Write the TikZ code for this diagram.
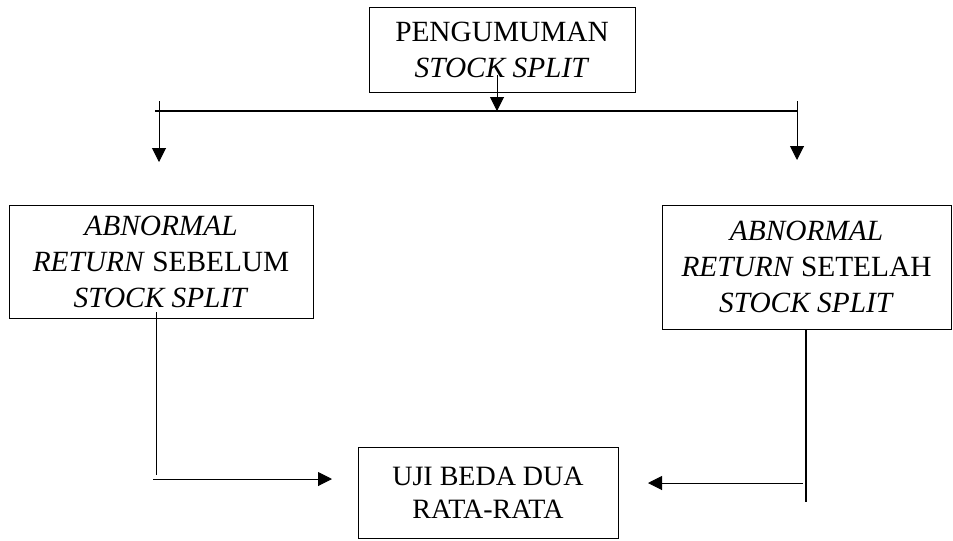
\documentclass[tikz,border=0pt]{standalone}
\usepackage{fontspec}
\setmainfont{Liberation Serif}
\usetikzlibrary{arrows.meta,positioning}
\tikzset{
        boxnode/.style={align=center, draw=black, line width=0.75pt, inner sep=0pt, font=\fontsize{22}{27}\selectfont},
        % Announcement box
        node_announce/.style={boxnode, minimum width=199.5pt, minimum height=63.75pt},
        % Abnormal return boxes
        node_before/.style={boxnode, minimum width=228pt, minimum height=84.75pt},
        node_after/.style={boxnode, minimum width=216.75pt, minimum height=93pt},
        % Test box
        node_test/.style={boxnode, minimum width=195pt, minimum height=68.25pt, font=\fontsize{21}{25}\selectfont},
        % Lines
        thinline/.style={line width=0.75pt},
        thickline/.style={line width=1.5pt}
}

\begin{document}
\begin{tikzpicture}[
            x=0.75pt, y=-0.75pt,
            >={Triangle[length=10.5pt,width=10.5pt]}
        ]
            \useasboundingbox (0,0) rectangle (953,540);
            \node[node_announce] (announce) at (502,49.5) {PENGUMUMAN\\\textit{STOCK SPLIT}};
            \node[node_before] (before) at (161,261.5) {\textit{ABNORMAL}\\\textit{RETURN} SEBELUM\\\textit{STOCK SPLIT}};
            \node[node_after] (after) at (806.5,267) {\textit{ABNORMAL}\\\textit{RETURN} SETELAH\\\textit{STOCK SPLIT}};
            \node[node_test] (test) at (488,492.5) {UJI BEDA DUA\\RATA-RATA};
            % branch
            \coordinate (a_top) at (497,75);
            \coordinate (bus_mid) at (497,111);
            \coordinate (bus_left) at (155,111);
            \coordinate (bus_right) at (797,111);
            \coordinate (left_top) at (159,101);
            \coordinate (left_tip) at (159,162);
            \coordinate (right_top) at (797,101);
            \coordinate (right_tip) at (797,160);
            \draw[thinline,->] (a_top) -- (bus_mid);
            \draw[thickline] (bus_left) -- (bus_right);
            \draw[thinline,->] (left_top) -- (left_tip);
            \draw[thinline,->] (right_top) -- (right_tip);
            % to the test
            \coordinate (l_start) at (156,312);
            \coordinate (l_end) at (156,475);
            \coordinate (l_from) at (153,479);
            \coordinate (l_tip) at (332,479);
            \coordinate (r_start) at (806,329);
            \coordinate (r_end) at (806,502);
            \coordinate (r_from) at (803,483);
            \coordinate (r_tip) at (648,483);
            \draw[thinline] (l_start) -- (l_end);
            \draw[thinline,->] (l_from) -- (l_tip);
            \draw[thickline] (r_start) -- (r_end);
            \draw[thinline,->] (r_from) -- (r_tip);
        \end{tikzpicture}
\end{document}
